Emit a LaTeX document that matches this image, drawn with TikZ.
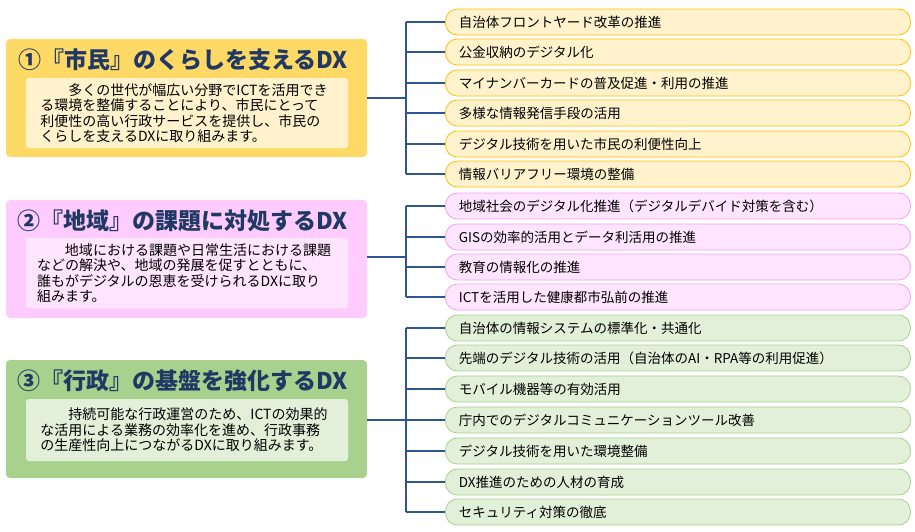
\documentclass[tikz,border=0pt]{standalone}
\usepackage{fontspec}
\setmainfont{Noto Sans CJK JP}
\usetikzlibrary{calc}
\definecolor{ln}{HTML}{2F5597}
\definecolor{hd}{HTML}{1F3864}
\definecolor{yA}{HTML}{FFD966}\definecolor{yB}{HTML}{FFF2CC}\definecolor{yC}{HTML}{FFC000}
\definecolor{pA}{HTML}{FFCCFF}\definecolor{pB}{HTML}{FFE5FF}\definecolor{pC}{HTML}{F0A0F0}
\definecolor{gA}{HTML}{A9D18E}\definecolor{gB}{HTML}{E2F0D9}\definecolor{gC}{HTML}{A9D18E}
\tikzset{
 blk/.style={rounded corners=4pt,minimum width=361pt,minimum height=118pt,inner sep=0pt},
 inn/.style={rounded corners=3pt,minimum width=322pt,inner sep=0pt},
 hdr/.style={font=\fontsize{23}{26}\selectfont\bfseries,text=hd},
 body/.style={font=\fontsize{14}{15.5}\selectfont,align=left,inner sep=0pt},
 item/.style={rounded corners=12pt,minimum width=465pt,minimum height=26pt,inner sep=0pt,line width=0.8pt,anchor=west,text width=438pt,align=left,font=\fontsize{13.5}{15}\selectfont},
 con/.style={draw=ln,line width=1.6pt}
}
\begin{document}
\begin{tikzpicture}[x=1pt,y=-1pt]
\useasboundingbox (0,0) rectangle (915,531);
% block 1
\node[blk,fill=yA] (b1) at (186.5,98) {};
\node[hdr] (h1) at (183,60) {①『市民』のくらしを支えるDX};
\node[inn,fill=yB,minimum height=70pt] (i1) at (187,113) {};
\node[body] (t1) at (184,113) {\hspace*{2em}多くの世代が幅広い分野でICTを活用でき\\る環境を整備することにより、市民にとって\\利便性の高い行政サービスを提供し、市民の\\くらしを支えるDXに取り組みます。};
% block 2
\node[blk,fill=pA] (b2) at (186.5,259) {};
\node[hdr] (h2) at (183,221) {②『地域』の課題に対処するDX};
\node[inn,fill=pB,minimum height=70pt] (i2) at (187,273) {};
\node[body] (t2) at (184,273) {\hspace*{2em}地域における課題や日常生活における課題\\などの解決や、地域の発展を促すとともに、\\誰もがデジタルの恩恵を受けられるDXに取り\\組みます。};
% block 3
\node[blk,fill=gA] (b3) at (186.5,419) {};
\node[hdr] (h3) at (183,381) {③『行政』の基盤を強化するDX};
\node[inn,fill=gB,minimum height=62pt] (i3) at (187,430) {};
\node[body] (t3) at (184,430) {\hspace*{2em}持続可能な行政運営のため、ICTの効果的\\な活用による業務の効率化を進め、行政事務\\の生産性向上につながるDXに取り組みます。};
% items
\foreach \n/\y/\t in {a1/22/自治体フロントヤード改革の推進,a2/52/公金収納のデジタル化,a3/83/マイナンバーカードの普及促進・利用の推進,a4/113/多様な情報発信手段の活用,a5/144/デジタル技術を用いた市民の利便性向上,a6/174/情報バリアフリー環境の整備}
 {\node[item,fill=yB,draw=yC] (\n) at (445,\y) {\t};}
\foreach \n/\y/\t in {c1/206/地域社会のデジタル化推進（デジタルデバイド対策を含む）,c2/237/GISの効率的活用とデータ利活用の推進,c3/267/教育の情報化の推進,c4/297/ICTを活用した健康都市弘前の推進}
 {\node[item,fill=pB,draw=pC] (\n) at (445,\y) {\t};}
\foreach \n/\y/\t in {d1/328/自治体の情報システムの標準化・共通化,d2/358/先端のデジタル技術の活用（自治体のAI・RPA等の利用促進）,d3/389/モバイル機器等の有効活用,d4/420/庁内でのデジタルコミュニケーションツール改善,d5/451/デジタル技術を用いた環境整備,d6/482/DX推進のための人材の育成,d7/512/セキュリティ対策の徹底}
 {\node[item,fill=gB,draw=gC] (\n) at (445,\y) {\t};}
\coordinate (j1) at (406,98);
\coordinate (j2) at (406,257);
\coordinate (j3) at (406,420);
\draw[con] (b1.east |- j1) -- (j1);
\draw[con] (b2.east |- j2) -- (j2);
\draw[con] (b3.east |- j3) -- (j3);
\foreach \n in {a1,a2,a3,a4,a5,a6} \draw[con] (j1 |- \n.west) -- (\n.west);
\foreach \n in {c1,c2,c3,c4} \draw[con] (j2 |- \n.west) -- (\n.west);
\foreach \n in {d1,d2,d3,d4,d5,d6,d7} \draw[con] (j3 |- \n.west) -- (\n.west);
\draw[con] (j1 |- a1.west) -- (j1 |- a6.west);
\draw[con] (j2 |- c1.west) -- (j2 |- c4.west);
\draw[con] (j3 |- d1.west) -- (j3 |- d7.west);
\end{tikzpicture}
\end{document}
